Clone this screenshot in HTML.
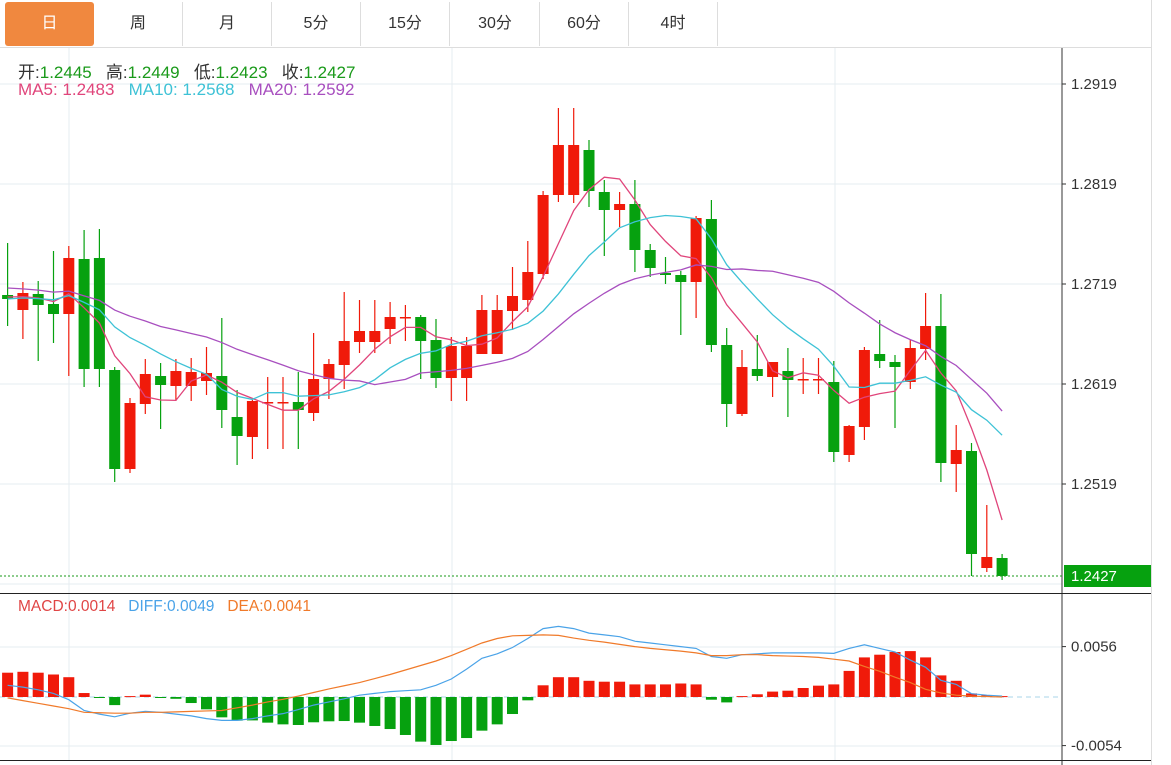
<!DOCTYPE html>
<html><head><meta charset="utf-8">
<style>
body{margin:0;width:1171px;height:765px;background:#fff;overflow:hidden;font-family:"Liberation Sans","Noto Sans CJK SC",sans-serif;}
.tabs{position:absolute;left:0;top:0;width:1151px;height:47px;border-bottom:1px solid #ddd;}
.tab{position:absolute;top:2px;height:44px;width:89px;text-align:center;line-height:44px;font-size:16px;color:#333;border-right:1px solid #ddd;box-sizing:border-box;}
.tab.on{background:#f0883f;color:#fff;border-radius:3px;border:none;}
.leg{position:absolute;font-size:17px;white-space:nowrap;}
</style></head><body>
<div class="tabs">
<div class="tab on" style="left:5px">日</div>
<div class="tab" style="left:94px">周</div>
<div class="tab" style="left:183px">月</div>
<div class="tab" style="left:272px">5分</div>
<div class="tab" style="left:361px">15分</div>
<div class="tab" style="left:451px">30分</div>
<div class="tab" style="left:540px">60分</div>
<div class="tab" style="left:629px">4时</div>
</div>
<div style="position:absolute;left:1151px;top:0;width:1px;height:765px;background:#ddd"></div>
<svg id="chart" width="1171" height="765" style="position:absolute;left:0;top:0"></svg>
<div class="leg" style="left:18px;top:58px"><span style="color:#333">开:</span><span style="color:#1a9a1a">1.2445</span>&nbsp;&nbsp;&nbsp;<span style="color:#333">高:</span><span style="color:#1a9a1a">1.2449</span>&nbsp;&nbsp;&nbsp;<span style="color:#333">低:</span><span style="color:#1a9a1a">1.2423</span>&nbsp;&nbsp;&nbsp;<span style="color:#333">收:</span><span style="color:#1a9a1a">1.2427</span></div>
<div class="leg" style="left:18px;top:80px"><span style="color:#e0457b">MA5: 1.2483</span>&nbsp;&nbsp;&nbsp;<span style="color:#3ec2d6">MA10: 1.2568</span>&nbsp;&nbsp;&nbsp;<span style="color:#a84fbf">MA20: 1.2592</span></div>
<div class="leg" style="left:18px;top:598px;font-size:15.5px"><span style="color:#e04545">MACD:0.0014</span>&nbsp;&nbsp;&nbsp;<span style="color:#4aa3e8">DIFF:0.0049</span>&nbsp;&nbsp;&nbsp;<span style="color:#f07a2a">DEA:0.0041</span></div>
<script>
const opens=[1.2708,1.2693,1.2709,1.2699,1.2689,1.2744,1.2745,1.2633,1.2534,1.2599,1.2627,1.2617,1.2617,1.2622,1.2627,1.2586,1.2566,1.2600,1.2600,1.2601,1.2590,1.2624,1.2638,1.2661,1.2661,1.2674,1.2685,1.2686,1.2663,1.2625,1.2625,1.2649,1.2649,1.2692,1.2703,1.2729,1.2808,1.2808,1.2853,1.2811,1.2793,1.2799,1.2753,1.2730,1.2728,1.2721,1.2784,1.2658,1.2589,1.2634,1.2626,1.2632,1.2623,1.2623,1.2621,1.2548,1.2576,1.2649,1.2641,1.2621,1.2654,1.2677,1.2539,1.2552,1.2435,1.2445];
const highs=[1.2760,1.2721,1.2722,1.2752,1.2757,1.2773,1.2774,1.2636,1.2605,1.2644,1.2640,1.2644,1.2645,1.2656,1.2685,1.2613,1.2604,1.2626,1.2626,1.2631,1.2670,1.2644,1.2711,1.2703,1.2703,1.2701,1.2698,1.2688,1.2684,1.2666,1.2666,1.2708,1.2708,1.2736,1.2762,1.2812,1.2895,1.2895,1.2863,1.2823,1.2811,1.2823,1.2759,1.2746,1.2732,1.2787,1.2803,1.2675,1.2653,1.2668,1.2641,1.2655,1.2645,1.2645,1.2642,1.2578,1.2656,1.2683,1.2648,1.2663,1.2710,1.2709,1.2578,1.2560,1.2498,1.2449];
const lows=[1.2677,1.2664,1.2642,1.2660,1.2627,1.2616,1.2616,1.2521,1.2530,1.2589,1.2574,1.2602,1.2602,1.2608,1.2575,1.2538,1.2544,1.2554,1.2554,1.2554,1.2582,1.2604,1.2614,1.2650,1.2650,1.2659,1.2662,1.2624,1.2615,1.2602,1.2602,1.2649,1.2649,1.2673,1.2691,1.2724,1.2801,1.2800,1.2796,1.2747,1.2776,1.2731,1.2726,1.2719,1.2668,1.2685,1.2651,1.2576,1.2587,1.2622,1.2606,1.2586,1.2609,1.2609,1.2541,1.2541,1.2563,1.2635,1.2575,1.2614,1.2643,1.2521,1.2511,1.2427,1.2431,1.2423];
const closes=[1.2704,1.2710,1.2698,1.2689,1.2745,1.2634,1.2634,1.2534,1.2600,1.2629,1.2618,1.2632,1.2631,1.2630,1.2593,1.2567,1.2602,1.2601,1.2601,1.2593,1.2624,1.2639,1.2662,1.2672,1.2672,1.2686,1.2686,1.2662,1.2625,1.2657,1.2657,1.2693,1.2693,1.2707,1.2731,1.2808,1.2858,1.2858,1.2812,1.2793,1.2799,1.2753,1.2735,1.2728,1.2721,1.2785,1.2658,1.2599,1.2636,1.2627,1.2641,1.2623,1.2624,1.2624,1.2551,1.2577,1.2653,1.2642,1.2636,1.2655,1.2677,1.2540,1.2553,1.2449,1.2446,1.2427];
const priorCloses=[1.2728,1.2722,1.2730,1.2725,1.2729,1.2724,1.2727,1.2723,1.2726,1.2726,1.2700,1.2704,1.2701,1.2703,1.2702,1.2708,1.2705,1.2707,1.2706];
const macdHist=[0.0027,0.0028,0.0027,0.0025,0.0022,0.00044,-0.00005,-0.0009,0.0001,0.00026,-0.00005,-0.0002,-0.00067,-0.00137,-0.00226,-0.00263,-0.0026,-0.00285,-0.00304,-0.00311,-0.00281,-0.0027,-0.00267,-0.00285,-0.00322,-0.00356,-0.00422,-0.00496,-0.00533,-0.00489,-0.00456,-0.00374,-0.00304,-0.00189,-0.00037,0.0013,0.0022,0.0022,0.0018,0.0017,0.0017,0.0014,0.0014,0.0014,0.0015,0.0014,-0.0003,-0.0006,0.0001,0.0003,0.0006,0.0007,0.0010,0.00126,0.0014,0.0029,0.0044,0.0047,0.0050,0.0051,0.0044,0.0024,0.0018,0.0004,0.0002,0.0001];
const diffLine=[0.0013,0.0011,0.0008,0.0004,-0.0003,-0.0015,-0.0019,-0.0022,-0.0018,-0.0016,-0.0017,-0.0019,-0.0021,-0.0024,-0.0026,-0.0026,-0.0024,-0.0021,-0.00185,-0.0014,-0.0009,-0.00055,-0.0002,0.0002,0.0004,0.0006,0.0007,0.0008,0.0013,0.0020,0.0031,0.0043,0.0048,0.0055,0.0065,0.0076,0.00785,0.0076,0.0071,0.0069,0.0067,0.0062,0.0060,0.0058,0.0056,0.0054,0.0045,0.0043,0.0047,0.0048,0.0049,0.0049,0.0049,0.0049,0.00485,0.0054,0.0058,0.0054,0.0050,0.0041,0.0033,0.00185,0.0014,0.00037,0.0002,0.0001];
const deaLine=[-0.0001,-0.0004,-0.0007,-0.0010,-0.0013,-0.0017,-0.00175,-0.0018,-0.0018,-0.0017,-0.0017,-0.00165,-0.0016,-0.00155,-0.0015,-0.0012,-0.0009,-0.00055,-0.00026,0.0001,0.0005,0.0009,0.00125,0.0016,0.00205,0.0025,0.0030,0.0035,0.0040,0.0046,0.0053,0.0060,0.0065,0.0068,0.00685,0.0069,0.00685,0.00655,0.0063,0.0061,0.00585,0.0056,0.0054,0.00525,0.0051,0.0049,0.0046,0.0046,0.0047,0.0047,0.0046,0.00455,0.0045,0.0044,0.0042,0.0040,0.0034,0.00285,0.0022,0.0016,0.00085,0.00045,0.0002,0.0001,0.00005,0];
const priceTicks=[1.2919,1.2819,1.2719,1.2619,1.2519];
const macdTicks=[0.0056,-0.0054];
const lastPrice=1.2427;

const NS="http://www.w3.org/2000/svg";
const svg=document.getElementById('chart');
function mk(tag,attrs,parent){const e=document.createElementNS(NS,tag);for(const k in attrs)e.setAttribute(k,attrs[k]);(parent||svg).appendChild(e);return e;}
const xOf=i=>7.6+i*15.3;
const yP=p=>84+(1.2919-p)*10000;
const yM=v=>697-v*9000;
const AX=1062;
[84,184,284,384,484,584].forEach(y=>{const g=mk('line',{x1:0,x2:AX,y1:y,y2:y,stroke:'#e6ecf0','stroke-width':1});

});
[647,746].forEach(y=>{const g=mk('line',{x1:0,x2:AX,y1:y,y2:y,stroke:'#e6ecf0','stroke-width':1});

});
[69,452,835].forEach(x=>{const g=mk('line',{x1:x,x2:x,y1:48,y2:760,stroke:'#e6ecf0','stroke-width':1});

});
const a1=mk('line',{x1:AX,x2:AX,y1:48,y2:765,stroke:'#333','stroke-width':1});


const b1=mk('line',{x1:0,x2:1151,y1:593.5,y2:593.5,stroke:'#222','stroke-width':1});


const b2=mk('line',{x1:0,x2:1151,y1:760.5,y2:760.5,stroke:'#222','stroke-width':1});


priceTicks.forEach(p=>{const y=yP(p);mk('line',{x1:AX,x2:AX+4,y1:y,y2:y,stroke:'#333'});
const t=mk('text',{x:AX+9,y:y+5,'font-size':15,fill:'#333','font-family':'Liberation Sans, sans-serif'});t.textContent=p.toFixed(4);

});
macdTicks.forEach(v=>{const y=yM(v);mk('line',{x1:AX,x2:AX+4,y1:y,y2:y,stroke:'#333'});
const t=mk('text',{x:AX+9,y:y+5,'font-size':15,fill:'#333','font-family':'Liberation Sans, sans-serif'});t.textContent=v.toFixed(4);

});
const RED='#f01a0a',GREEN='#06a10f';
for(let i=0;i<opens.length;i++){
 const up=closes[i]>=opens[i];const c=up?RED:GREEN;const x=xOf(i);
 const g=mk('g',{});
 
 
 mk('line',{x1:x,x2:x,y1:yP(highs[i]),y2:yP(lows[i]),stroke:c,'stroke-width':1.2},g);
 const yt=yP(Math.max(opens[i],closes[i])),yb=yP(Math.min(opens[i],closes[i]));
 mk('rect',{x:x-5.5,y:yt,width:11,height:Math.max(yb-yt,1.5),fill:c},g);
}
const all=priorCloses.concat(closes);
function ma(n){const out=[];for(let i=0;i<closes.length;i++){const j=i+priorCloses.length;let s=0;for(let k=j-n+1;k<=j;k++)s+=all[k];out.push(s/n);}return out;}
[[5,'#e0457b','ma5-line'],[10,'#3ec2d6','ma10-line'],[20,'#a84fbf','ma20-line']].forEach(([n,col,name])=>{
 const v=ma(n);const p=mk('polyline',{points:v.map((m,i)=>xOf(i)+','+yP(m)).join(' '),fill:'none',stroke:col,'stroke-width':1.3});
 
 
});
const ly=yP(lastPrice);
const lp=mk('line',{x1:0,x2:AX,y1:ly,y2:ly,stroke:'#1a9a1a','stroke-width':1,'stroke-dasharray':'2,2'});


const lb=mk('rect',{x:AX+2,y:ly-11,width:87,height:22,fill:'#06a10f'});


const lt=mk('text',{x:AX+9,y:ly+5,'font-size':15,fill:'#fff','font-family':'Liberation Sans, sans-serif'});lt.textContent=lastPrice.toFixed(4);


const z=mk('line',{x1:0,x2:AX,y1:697,y2:697,stroke:'#a8d4ea','stroke-width':1,'stroke-dasharray':'5,4'});


macdHist.forEach((v,i)=>{const y=yM(v);const r=mk('rect',{x:xOf(i)-5.5,y:Math.min(y,697),width:11,height:Math.max(Math.abs(y-697),1),fill:v>=0?RED:GREEN});

});
const dl=mk('polyline',{points:diffLine.map((v,i)=>xOf(i)+','+yM(v)).join(' '),fill:'none',stroke:'#4aa3e8','stroke-width':1.2});


const de=mk('polyline',{points:deaLine.map((v,i)=>xOf(i)+','+yM(v)).join(' '),fill:'none',stroke:'#f07a2a','stroke-width':1.2});


</script>
</body></html>
